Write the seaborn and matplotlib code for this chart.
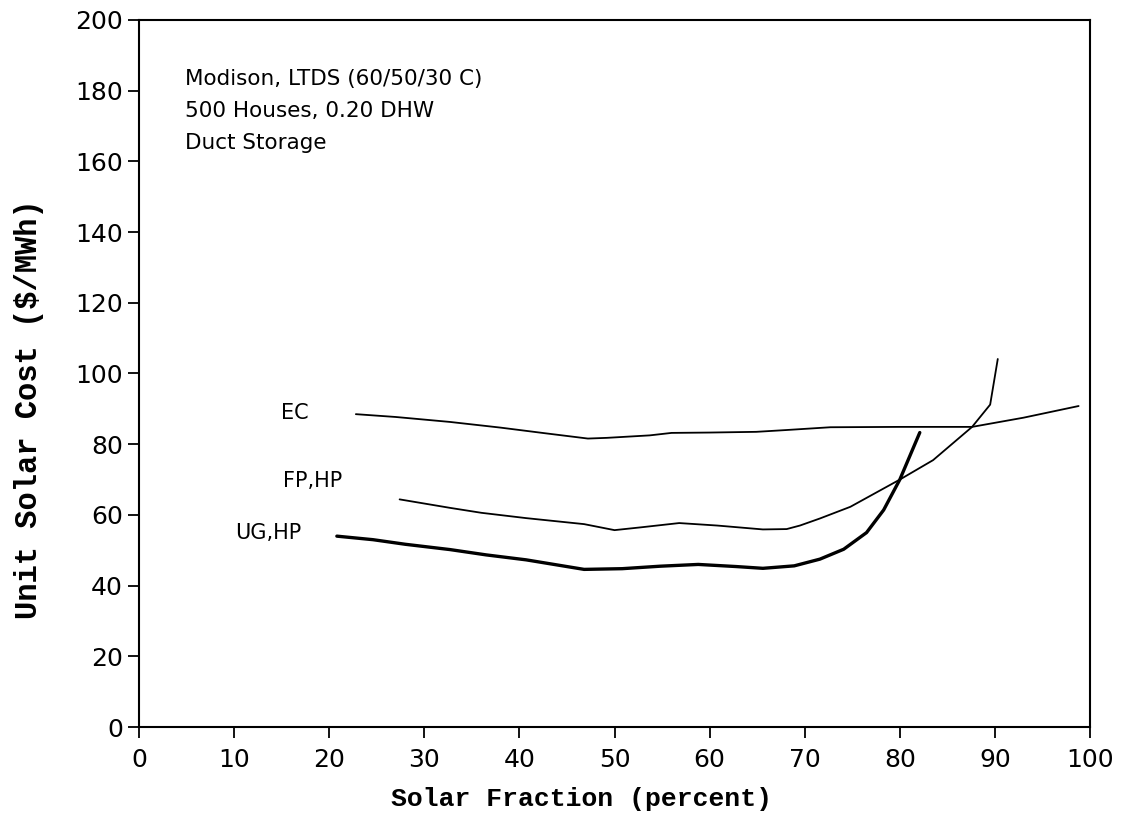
import matplotlib
matplotlib.use("Agg")
import matplotlib.pyplot as plt
import seaborn as sns
import pandas as pd

# ---- data ----
ec_x = [22.8, 27.0, 32.7, 38.0, 42.7, 47.2, 49.2, 53.7, 56.0, 60.0, 64.9, 68.0, 72.7, 80.0, 87.6, 93.0, 98.8]
ec_y = [88.5, 87.7, 86.3, 84.7, 83.1, 81.6, 81.8, 82.5, 83.2, 83.3, 83.5, 84.0, 84.8, 84.9, 84.9, 87.5, 90.8]

fp_x = [27.4, 32.7, 36.0, 40.7, 46.8, 50.0, 52.8, 56.8, 60.8, 65.6, 68.1, 69.5, 71.6, 74.8, 80.0, 83.5, 87.6, 89.5, 90.3]
fp_y = [64.4, 62.0, 60.6, 59.1, 57.4, 55.7, 56.5, 57.7, 57.0, 55.9, 56.0, 57.0, 59.0, 62.3, 70.0, 75.5, 84.9, 91.2, 104.1]

ug_x = [20.8, 24.6, 28.0, 32.7, 36.5, 40.7, 46.8, 50.8, 54.8, 58.8, 62.8, 65.6, 68.9, 71.6, 74.1, 76.5, 78.3, 80.0, 82.1]
ug_y = [54.0, 53.0, 51.7, 50.2, 48.7, 47.3, 44.6, 44.8, 45.5, 46.0, 45.4, 44.9, 45.6, 47.5, 50.3, 55.0, 61.4, 70.0, 83.3]

series_names = ["EC", "FP,HP", "UG,HP"]
x_ticks = [0, 10, 20, 30, 40, 50, 60, 70, 80, 90, 100]
y_ticks = [0, 20, 40, 60, 80, 100, 120, 140, 160, 180, 200]
note_lines = ["Modison, LTDS (60/50/30 C)", "500 Houses, 0.20 DHW", "Duct Storage"]
x_label = "Solar Fraction (percent)"
y_label = "Unit Solar Cost ($/MWh)"

sns.set_theme(style="ticks")
plt.rcParams["font.family"] = ["DejaVu Sans"]
plt.rcParams["text.color"] = "black"
plt.rcParams["axes.labelcolor"] = "black"
plt.rcParams["xtick.color"] = "black"
plt.rcParams["ytick.color"] = "black"

fig = plt.figure(figsize=(11.25, 8.3), dpi=100)
ax = fig.add_axes([0.1236, 0.124, 0.8453, 0.852])

df = pd.concat([
    pd.DataFrame({"x": ec_x, "y": ec_y, "s": series_names[0]}),
    pd.DataFrame({"x": fp_x, "y": fp_y, "s": series_names[1]}),
    pd.DataFrame({"x": ug_x, "y": ug_y, "s": series_names[2]}),
])

widths = {"EC": 1.3, "FP,HP": 1.3, "UG,HP": 2.4}
for name in series_names:
    sub = df[df["s"] == name]
    sns.lineplot(data=sub, x="x", y="y", ax=ax, color="black",
                 linewidth=widths[name], sort=False, estimator=None, legend=False)

ax.set_xlim(0, 100)
ax.set_ylim(0, 200)
ax.set_xticks(x_ticks)
ax.set_yticks(y_ticks)
ax.tick_params(axis="both", direction="out", length=8, width=1.3, labelsize=18,
               color="black", labelcolor="black")
ax.tick_params(axis="x", pad=7)
for sp in ax.spines.values():
    sp.set_visible(True)
    sp.set_linewidth(1.5)
    sp.set_color("black")

ax.set_xlabel(x_label, family="Liberation Mono", fontweight="bold", fontsize=19,
              color="black")
ax.xaxis.set_label_coords(0.465, -0.085)
ax.set_ylabel(y_label, family="Liberation Mono", fontweight="bold", fontsize=22,
              color="black")
ax.yaxis.set_label_coords(-0.1, 0.45)

# annotation block
for i, line in enumerate(note_lines):
    ax.text(4.8, 183.3 - i * 9.0, line, fontsize=15.5, ha="left", va="center", color="black")

# curve labels
ax.text(16.4, 88.8, series_names[0], fontsize=15, ha="center", va="center", color="black")
ax.text(18.3, 69.7, series_names[1], fontsize=15, ha="center", va="center", color="black")
ax.text(13.6, 54.9, series_names[2], fontsize=15, ha="center", va="center", color="black")

fig.savefig("out.png", dpi=100, facecolor="white")
